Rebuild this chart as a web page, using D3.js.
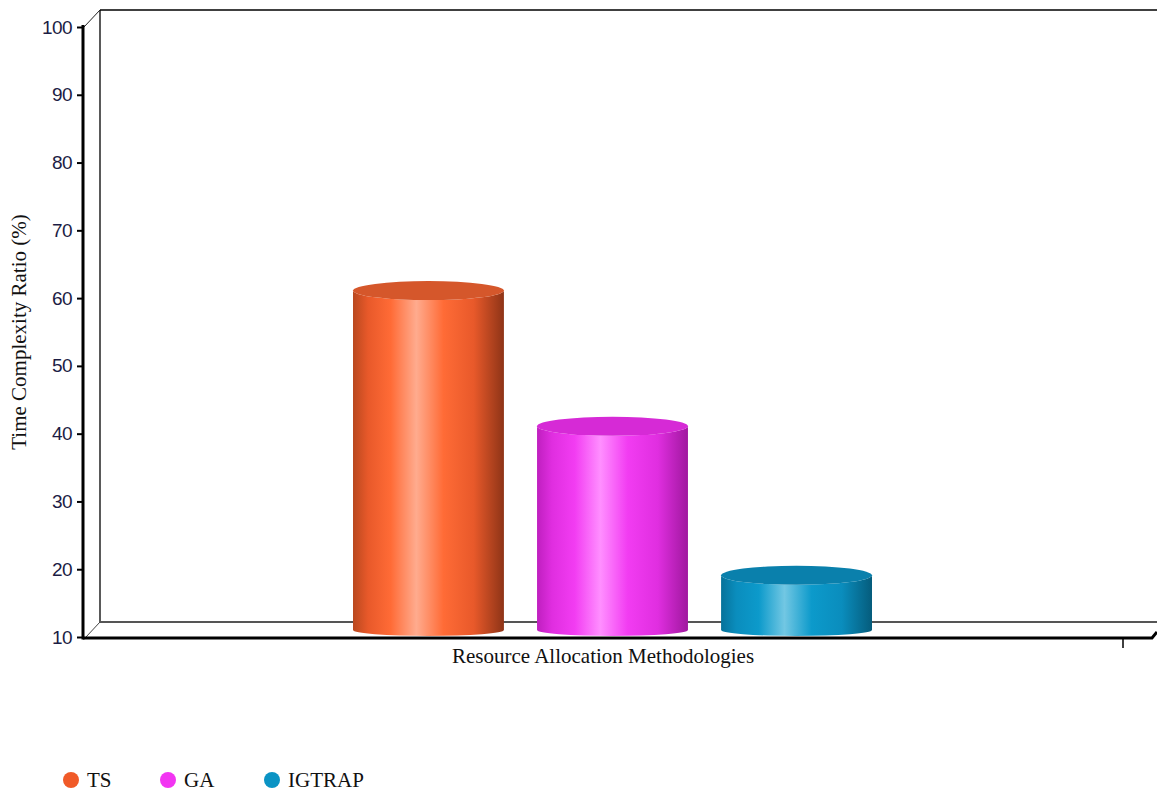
<!DOCTYPE html>
<html>
<head>
<meta charset="utf-8">
<script src="https://cdn.jsdelivr.net/npm/d3@7/dist/d3.min.js"></script>
<style>
  html, body { margin: 0; padding: 0; background: #fff; }
  svg { display: block; }
</style>
</head>
<body>
<svg id="chart" width="1157" height="796"></svg>
<script>
const categories = ["Resource Allocation Methodologies"];
const seriesNames = ["TS", "GA", "IGTRAP"];
const seriesValues = [60, 40, 18];
const yTickValues = [10, 20, 30, 40, 50, 60, 70, 80, 90, 100];
const yTitle = "Time Complexity Ratio (%)";

const palette = {
  TS:     { edgeL: "#B9481F", base: "#E8592A", bright: "#FF6B36", hi: "#FFAB8E", edgeR: "#8E3417", top: "#D5572B" },
  GA:     { edgeL: "#BF1FBF", base: "#E02EE0", bright: "#F23CF2", hi: "#FF8FFF", edgeR: "#A0189F", top: "#D62AD6" },
  IGTRAP: { edgeL: "#06729A", base: "#0A8DBD", bright: "#0C9ACB", hi: "#72C7E3", edgeR: "#055C7C", top: "#0A80AC" }
};
const legendColors = { TS: "#F05A28", GA: "#F235F2", IGTRAP: "#0A93C4" };

const svg = d3.select("#chart");
const defs = svg.append("defs");

const x0 = 83, x1 = 1123, yBottom = 637, yTop = 27;
const depth = 17;     // back wall offset
const half = 7.5;     // bar depth offset (vertical)
const halfX = 9.5;    // bar depth offset (horizontal)

const y = d3.scaleLinear().domain([10, 100]).range([yBottom, yTop]);
const x = d3.scaleBand().domain(categories).range([x0, x1]);
const groupW = 519;
const cx = x(categories[0]) + x.bandwidth() / 2;
const xs = d3.scaleBand().domain(seriesNames).range([cx - groupW / 2, cx + groupW / 2]).paddingInner(0.18);

// Back wall & floor
const wall = svg.append("g").attr("fill", "none");
wall.append("line").attr("x1", x0 + depth).attr("y1", yTop - depth).attr("x2", 1157).attr("y2", yTop - depth)
  .attr("stroke", "#000").attr("stroke-width", 1.5);
wall.append("line").attr("x1", x0 + depth).attr("y1", yTop - depth).attr("x2", x0 + depth).attr("y2", yBottom - 15)
  .attr("stroke", "#000").attr("stroke-width", 1.3);
wall.append("line").attr("x1", x0 + 1).attr("y1", yTop).attr("x2", x0 + depth).attr("y2", yTop - depth)
  .attr("stroke", "#222").attr("stroke-width", 1);
wall.append("line").attr("x1", x0 + depth).attr("y1", yBottom - 15).attr("x2", 1157).attr("y2", yBottom - 15)
  .attr("stroke", "#555").attr("stroke-width", 2);
wall.append("line").attr("x1", x0 + 3).attr("y1", yBottom).attr("x2", x0 + depth).attr("y2", yBottom - 15)
  .attr("stroke", "#444").attr("stroke-width", 1);

// Bars (cylinders)
seriesNames.forEach((name, i) => {
  const c = palette[name];
  const g = defs.append("linearGradient").attr("id", "grad" + i).attr("x1", "0%").attr("x2", "100%").attr("y1", "0%").attr("y2", "0%");
  [[0, c.edgeL], [0.1, c.base], [0.25, c.bright], [0.42, c.hi], [0.6, c.bright], [0.8, c.base], [1, c.edgeR]]
    .forEach(([o, col]) => g.append("stop").attr("offset", o).attr("stop-color", col));
});

const bars = svg.append("g");
seriesNames.forEach((name, i) => {
  const v = seriesValues[i];
  const L = xs(name) + halfX;
  const R = L + xs.bandwidth();
  const rx = xs.bandwidth() / 2;
  const ryT = 9.5, ryB = 6;
  const topC = y(v) - half;
  const botC = y(10) - half + 0.5;
  const side = `M${L},${topC} L${L},${botC} A${rx},${ryB} 0 0 0 ${R},${botC} L${R},${topC} A${rx},${ryT} 0 0 1 ${L},${topC} Z`;
  bars.append("path").attr("d", side).attr("fill", `url(#grad${i})`);
  bars.append("ellipse").attr("cx", L + rx).attr("cy", topC).attr("rx", rx).attr("ry", ryT)
    .attr("fill", palette[name].top);
});

// Front floor line
svg.append("path")
  .attr("d", `M${x0},${yBottom + 1} L1152,${yBottom + 1} L1157,${yBottom - 5}`)
  .attr("fill", "none").attr("stroke", "#000").attr("stroke-width", 3);

// Y axis
const yAxis = d3.axisLeft(y).tickValues(yTickValues).tickSize(6).tickPadding(5).tickSizeOuter(0);
const ya = svg.append("g").attr("transform", `translate(${x0},0)`).call(yAxis);
ya.select(".domain").attr("stroke", "#000").attr("stroke-width", 3).attr("d", `M0,${yTop - 2}V${yBottom + 2.5}`);
ya.selectAll(".tick line").attr("stroke", "#000").attr("stroke-width", 2);
ya.selectAll(".tick text").attr("font-family", "Liberation Sans, Arial, sans-serif").attr("font-size", 19)
  .attr("fill", "#1c1c44").attr("letter-spacing", -0.6);

// X axis tick + label
const xa = svg.append("g");
xa.append("line").attr("x1", x1).attr("x2", x1).attr("y1", yBottom + 1).attr("y2", yBottom + 11)
  .attr("stroke", "#000").attr("stroke-width", 1.5);
xa.append("text").attr("x", cx).attr("y", 663).attr("text-anchor", "middle")
  .attr("font-family", "Liberation Serif, Times New Roman, serif").attr("font-size", 21).attr("fill", "#111")
  .text(categories[0]);

// Y title
svg.append("text")
  .attr("transform", `translate(26,${(yTop + yBottom) / 2}) rotate(-90)`)
  .attr("text-anchor", "middle")
  .attr("font-family", "Liberation Serif, Times New Roman, serif").attr("font-size", 21).attr("fill", "#111")
  .text(yTitle);

// Legend
const legendX = [71, 168, 272];
const leg = svg.append("g");
seriesNames.forEach((name, i) => {
  leg.append("circle").attr("cx", legendX[i]).attr("cy", 780).attr("r", 8).attr("fill", legendColors[name]);
  leg.append("text").attr("x", legendX[i] + 16).attr("y", 787)
    .attr("font-family", "Liberation Serif, Times New Roman, serif").attr("font-size", 21).attr("fill", "#111")
    .text(name);
});
</script>
</body>
</html>
